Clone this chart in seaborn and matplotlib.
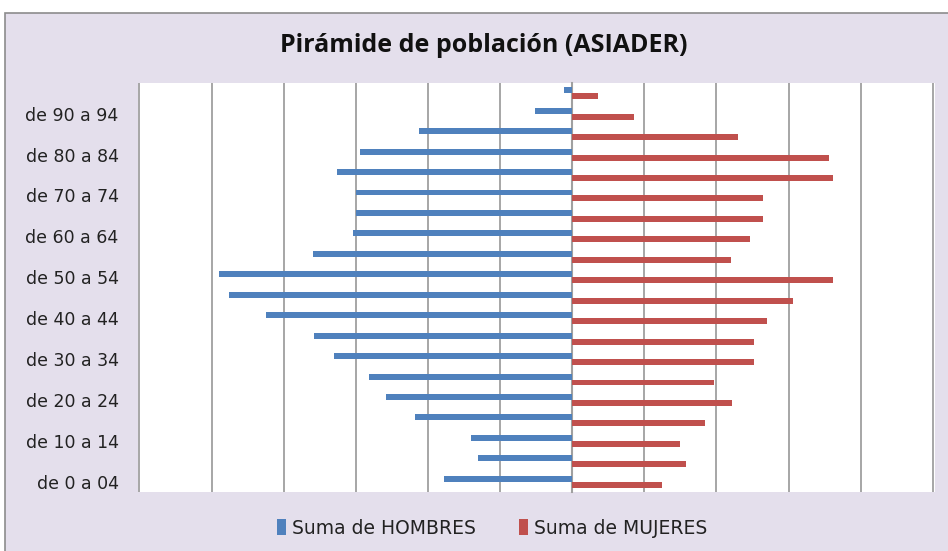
import matplotlib
matplotlib.use("Agg")
import matplotlib.pyplot as plt
from matplotlib.patches import Patch, Rectangle
import numpy as np
import pandas as pd
import seaborn as sns

# age groups, youngest first
grupos = ["de 0 a 04", "de 05 a 09", "de 10 a 14", "de 15 a 19", "de 20 a 24",
          "de 25 a 29", "de 30 a 34", "de 35 a 39", "de 40 a 44", "de 45 a 49",
          "de 50 a 54", "de 55 a 59", "de 60 a 64", "de 65 a 69", "de 70 a 74",
          "de 75 a 79", "de 80 a 84", "de 85 a 89", "de 90 a 94", "de 95 y más"]
hombres = [89, 65, 70, 109, 129, 141, 165, 179, 212, 238,
           245, 180, 152, 150, 150, 163, 147, 106, 26, 6]
mujeres = [62, 79, 75, 92, 111, 98, 126, 126, 135, 153,
           181, 110, 123, 132, 132, 181, 178, 115, 43, 18]
series = ["Suma de HOMBRES", "Suma de MUJERES"]
colores = ["#4F81BD", "#C0504D"]

df = pd.DataFrame({
    "grupo": grupos * 2,
    "serie": [series[0]] * len(grupos) + [series[1]] * len(grupos),
    "valor": [-v for v in hombres] + mujeres,
})
orden = grupos[::-1]

sns.set_style("white")
plt.rcParams["font.family"] = ["Open Sans", "DejaVu Sans"]

fig = plt.figure(figsize=(9.48, 5.51), dpi=100)
fig.patch.set_facecolor("white")
# outer chart frame
fig.patches.append(Rectangle((5 / 948, -0.01), 1, 1.01 - 13 / 551, transform=fig.transFigure,
                             facecolor="#E4DFEC", edgecolor="#8C8C8C", lw=1.2, zorder=-5))

ax = fig.add_axes([138 / 948, 59 / 551, 797 / 948, 409 / 551])
ax.set_zorder(2)
sns.barplot(data=df, y="grupo", x="valor", hue="serie", order=orden,
            hue_order=series, palette=colores, saturation=1, orient="h", width=0.58,
            errorbar=None, legend=False, ax=ax, zorder=3, linewidth=0)
ax.set_facecolor("white")

step = 50
ax.set_xlim(-6 * step - 1, 5 * step + 1.5)
ax.set_xticks(np.arange(-6, 6) * step)
ax.tick_params(axis="x", length=0, labelbottom=False)
ax.grid(axis="x", color="#8E8E8E", lw=1.1, zorder=0)
ax.grid(axis="y", visible=False)
for s in ["top", "bottom", "right"]:
    ax.spines[s].set_visible(False)

# center axis with boundary ticks
ax.spines["left"].set_position(("data", 0))
ax.spines["left"].set_color("#A0A0A0")
ax.spines["left"].set_linewidth(1.5)
n = len(grupos)
ax.set_yticks(np.arange(n + 1) - 0.5)
ax.set_yticklabels([])
ax.tick_params(axis="y", length=5, width=1.2, color="#A0A0A0", direction="out")
ax.set_ylim(n - 0.5, -0.5)
ax.set_xlabel("")
ax.set_ylabel("")

# category labels at plot edge
sec = ax.secondary_yaxis("left")
pos = [orden.index(g) for g in grupos[::2]]
sec.set_yticks(pos)
sec.set_yticklabels(grupos[::2], fontsize=12.5, color="#222222", family="DejaVu Sans")
sec.tick_params(length=0, pad=14)
sec.spines["left"].set_visible(False)

fig.text(484 / 948, 1 - 46 / 551, "Pirámide de población (ASIADER)",
         ha="center", va="center", fontsize=18, fontweight="bold", color="#111111")

handles = [Patch(facecolor=c, edgecolor="none") for c in colores]
fig.legend(handles, series, loc="center", bbox_to_anchor=(492 / 948, 1 - 528 / 551),
           ncol=2, frameon=False, prop={"family": "DejaVu Sans", "size": 13.5},
           handlelength=0.5, handleheight=0.9, handletextpad=0.3, columnspacing=2.3,
           labelcolor="#222222")

fig.savefig("out.png", dpi=100)
